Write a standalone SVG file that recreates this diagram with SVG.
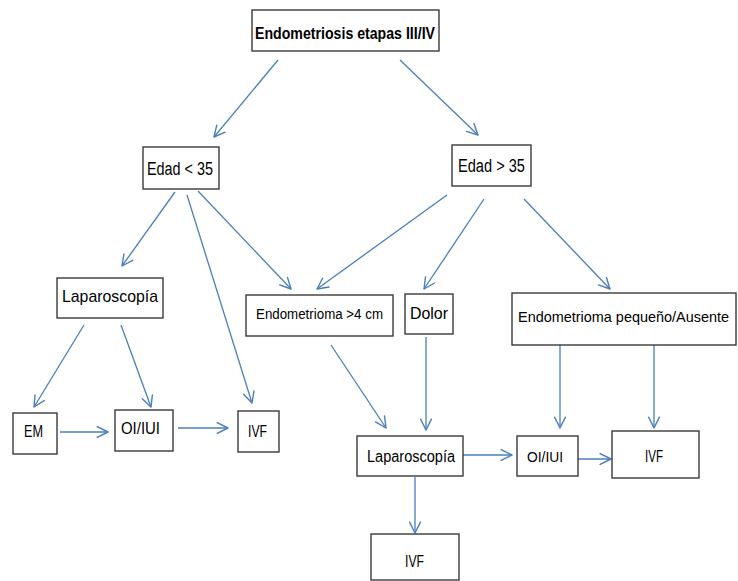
<svg xmlns="http://www.w3.org/2000/svg" width="738" height="581" viewBox="0 0 738 581">
<style>
.box{fill:#fff;stroke:#3a3a3a;stroke-width:1.4}
.t{font-family:"Liberation Sans",Arial,sans-serif;fill:#000;text-anchor:start}
.c{fill:none;stroke:#4a7ebb;stroke-width:1.3;marker-end:url(#ah)}
</style>
<defs>
<marker id="ah" markerUnits="userSpaceOnUse" viewBox="0 0 12 12" refX="11" refY="6" markerWidth="13" markerHeight="13" orient="auto">
<path d="M1,1 L11,6 L1,11" fill="none" stroke="#4a7ebb" stroke-width="1.3" stroke-linecap="round" stroke-linejoin="round"/>
</marker>
</defs>
<rect width="738" height="581" fill="#fff"/>
<g id="connectors">
<line class="c" x1="278" y1="60" x2="214" y2="137"/>
<line class="c" x1="400" y1="60" x2="478" y2="135"/>
<line class="c" x1="175" y1="192" x2="122" y2="266"/>
<line class="c" x1="187" y1="195" x2="252" y2="403"/>
<line class="c" x1="198" y1="191" x2="291" y2="289"/>
<line class="c" x1="447" y1="195" x2="317" y2="289"/>
<line class="c" x1="484" y1="199" x2="424" y2="289"/>
<line class="c" x1="524" y1="199" x2="610" y2="289"/>
<line class="c" x1="84" y1="325" x2="34" y2="407"/>
<line class="c" x1="121" y1="325" x2="151" y2="407"/>
<line class="c" x1="60" y1="432" x2="108" y2="432"/>
<line class="c" x1="178" y1="428" x2="228" y2="428"/>
<line class="c" x1="331" y1="345" x2="386" y2="428"/>
<line class="c" x1="426" y1="337" x2="426" y2="430"/>
<line class="c" x1="560" y1="345" x2="560" y2="428"/>
<line class="c" x1="654" y1="345" x2="654" y2="428"/>
<line class="c" x1="463" y1="455" x2="512" y2="455"/>
<line class="c" x1="578" y1="459" x2="611" y2="459"/>
<line class="c" x1="415" y1="477" x2="415" y2="533"/>
</g>
<g id="n-root"><rect class="box" x="252" y="10" width="187" height="41"/><text class="t" x="255" y="39" font-size="17" font-weight="bold" textLength="180" lengthAdjust="spacingAndGlyphs">Endometriosis etapas III/IV</text></g>
<g id="n-edad-menor"><rect class="box" x="143" y="147" width="76" height="42"/><text class="t" x="147" y="175" font-size="18" textLength="66" lengthAdjust="spacingAndGlyphs">Edad &lt; 35</text></g>
<g id="n-edad-mayor"><rect class="box" x="452" y="145" width="79" height="41"/><text class="t" x="458" y="172" font-size="18" textLength="67" lengthAdjust="spacingAndGlyphs">Edad &gt; 35</text></g>
<g id="n-lap1"><rect class="box" x="57" y="278" width="106" height="40"/><text class="t" x="62" y="302" font-size="17" textLength="96" lengthAdjust="spacingAndGlyphs">Laparoscopía</text></g>
<g id="n-endo4"><rect class="box" x="246" y="295" width="147" height="41"/><text class="t" x="256" y="319" font-size="14" textLength="127" lengthAdjust="spacingAndGlyphs">Endometrioma &gt;4 cm</text></g>
<g id="n-dolor"><rect class="box" x="405" y="294" width="48" height="40"/><text class="t" x="410" y="319" font-size="17" textLength="38" lengthAdjust="spacingAndGlyphs">Dolor</text></g>
<g id="n-endo-peq"><rect class="box" x="512" y="293" width="224" height="52"/><text class="t" x="518" y="322" font-size="14.5" textLength="211" lengthAdjust="spacingAndGlyphs">Endometrioma pequeño/Ausente</text></g>
<g id="n-em"><rect class="box" x="13" y="413" width="44" height="41"/><text class="t" x="24" y="437" font-size="16" textLength="19" lengthAdjust="spacingAndGlyphs">EM</text></g>
<g id="n-oi1"><rect class="box" x="115" y="410" width="58" height="41"/><text class="t" x="121" y="434" font-size="16" textLength="39" lengthAdjust="spacingAndGlyphs">OI/IUI</text></g>
<g id="n-ivf1"><rect class="box" x="238" y="411" width="41" height="41"/><text class="t" x="248" y="437" font-size="16" textLength="19" lengthAdjust="spacingAndGlyphs">IVF</text></g>
<g id="n-lap2"><rect class="box" x="357" y="436" width="106" height="40"/><text class="t" x="367" y="462" font-size="16" textLength="88" lengthAdjust="spacingAndGlyphs">Laparoscopía</text></g>
<g id="n-oi2"><rect class="box" x="517" y="436" width="61" height="40"/><text class="t" x="527" y="462" font-size="15" textLength="36" lengthAdjust="spacingAndGlyphs">OI/IUI</text></g>
<g id="n-ivf2"><rect class="box" x="612" y="431" width="87" height="47"/><text class="t" x="645" y="462" font-size="16" textLength="18" lengthAdjust="spacingAndGlyphs">IVF</text></g>
<g id="n-ivf3"><rect class="box" x="371" y="534" width="88" height="46"/><text class="t" x="405" y="567" font-size="16" textLength="19" lengthAdjust="spacingAndGlyphs">IVF</text></g>
</svg>
